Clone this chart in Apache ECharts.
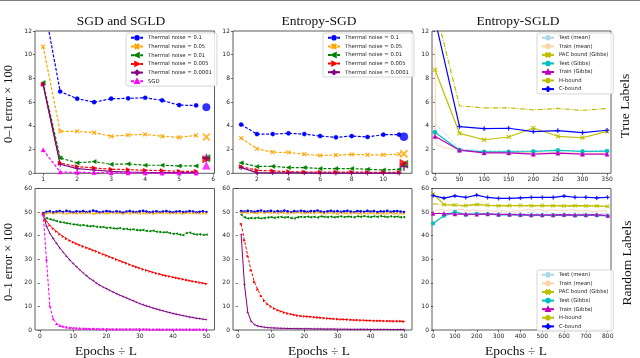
<!DOCTYPE html>
<html><head><meta charset="utf-8">
<script src="https://cdn.jsdelivr.net/npm/echarts@6/dist/echarts.min.js"></script>
<style>html,body{margin:0;padding:0;background:#fff}#c{width:640px;height:358px}</style>
</head><body><div id="c"></div><script>
// ---------------- DATA ----------------
const noiseNames = ['Thermal noise = 0.1','Thermal noise = 0.05','Thermal noise = 0.01','Thermal noise = 0.005','Thermal noise = 0.0001','SGD'];
const boundNames = ['Test (mean)','Train (mean)','PAC bound (Gibbs)','Test (Gibbs)','Train (Gibbs)','H-bound','C-bound'];
const titles = ['SGD and SGLD','Entropy-SGD','Entropy-SGLD'];

// top-left: SGD and SGLD, true labels
const tlX = [1,1.5,2,2.5,3,3.5,4,4.5,5,5.5];
const tlBlue   = [14.6,6.9,6.29,6.0,6.29,6.32,6.37,6.15,5.75,5.72];
const tlOrange = [10.68,3.54,3.54,3.43,3.12,3.23,3.29,3.12,3.03,3.2];
const tlGreen  = [7.65,1.3,0.88,0.99,0.76,0.79,0.68,0.68,0.62,0.62];
const tlRed    = [7.5,0.85,0.57,0.45,0.34,0.31,0.25,0.23,0.17,0.17];
const tlPurple = [7.45,0.76,0.4,0.28,0.17,0.11,0.08,0.06,0.05,0.05];
const tlSGD    = [1.98,0.11,0.08,0.06,0.04,0.03,0.03,0.02,0.02,0.02];
const tlFinalX = 5.8;
const tlFinal  = [5.58,3.06,1.27,1.19,1.3,0.65];

// top-middle: Entropy-SGD, true labels
const tmX = [1,2,3,4,5,6,7,8,9,10,11];
const tmBlue   = [4.11,3.31,3.31,3.37,3.31,3.14,3.03,3.14,3.06,3.26,3.26];
const tmOrange = [2.97,2.07,1.78,1.76,1.61,1.5,1.53,1.59,1.56,1.56,1.61];
const tmGreen  = [0.88,0.57,0.59,0.48,0.48,0.4,0.4,0.4,0.34,0.28,0.34];
const tmRed    = [0.57,0.25,0.2,0.14,0.11,0.1,0.1,0.1,0.09,0.09,0.09];
const tmPurple = [0.48,0.06,0.04,0.03,0.03,0.02,0.02,0.02,0.02,0.02,0.02];
const tmFinalX = 11.3;
const tmFinal  = [3.09,1.64,0.76,0.85,0.57];

// top-right: Entropy-SGLD, true labels
const trX = [0,50,100,150,200,250,300,350];
const trTestMean = [4.19,2.07,1.9,1.9,1.92,1.95,1.9,1.92];
const trTrainMeanX = [0,2,4,6,8,10,12,14,16,18,20,22,24,26,28,30,33,36,40,44,48,50,75,100,125,150,175,200,225,250,275,300,325,350];
const trTrainMean  = [10.6,2.6,2.45,2.3,2.45,2.25,2.35,2.2,2.15,2.3,2.1,2.15,2.2,2.05,2.1,2.1,2.0,2.1,2.05,2.0,2.05,1.95,1.85,1.8,1.8,1.78,1.75,1.75,1.72,1.75,1.72,1.7,1.7,1.7];
const trPAC    = [8.73,3.37,2.83,3.06,3.82,3.12,3.0,3.54];
const trTestG  = [3.46,1.95,1.81,1.81,1.84,1.93,1.84,1.87];
const trTrainG = [3.12,1.95,1.73,1.73,1.61,1.7,1.61,1.61];
const trH      = [14.0,5.69,5.52,5.52,5.35,5.47,5.3,5.47];
const trC      = [13.0,3.94,3.77,3.8,3.51,3.6,3.43,3.63];

// bottom-left: SGD and SGLD, random labels (epochs 1..50)
const blBlue   = [49.6,50.1,50.3,49.9,50.2,50.4,50.0,50.5,50.2,49.9,50.3,50.1,50.4,50.0,50.2,50.6,50.3,49.9,50.1,50.4,50.2,50.0,50.3,50.1,49.8,50.2,50.4,50.1,50.0,50.3,50.5,50.2,49.9,50.1,50.3,50.0,50.2,50.4,50.1,49.9,50.2,50.3,50.0,50.1,50.4,50.2,49.9,50.1,50.3,50.0];
const blOrange = [49.3,49.5,49.7,49.4,49.6,49.8,49.5,49.3,49.6,49.7,49.4,49.6,49.5,49.8,49.6,49.3,49.5,49.7,49.6,49.4,49.6,49.8,49.5,49.6,49.3,49.7,49.5,49.6,49.8,49.4,49.6,49.5,49.7,49.3,49.6,49.8,49.5,49.6,49.4,49.7,49.5,49.6,49.3,49.7,49.6,49.5,49.8,49.4,49.6,49.5];
const blGreen  = [49.2,47.4,47.0,46.6,46.2,45.8,45.6,45.3,45.1,44.8,44.7,44.4,44.5,44.2,44.0,44.1,43.8,43.6,43.7,43.3,43.4,43.1,43.0,43.2,42.8,42.9,42.6,42.7,42.4,42.3,42.4,42.0,41.9,42.1,41.7,41.6,41.4,41.5,41.1,40.8,40.9,40.5,40.2,41.1,41.3,40.8,40.5,40.6,40.3,40.4];
const blRed    = [49.2,46.1,44.4,43.0,41.8,40.6,39.6,38.7,37.9,37.2,36.6,36.0,35.4,34.9,34.4,33.8,33.3,32.7,32.1,31.6,31.0,30.5,29.9,29.4,28.8,28.3,27.7,27.2,26.7,26.2,25.7,25.3,24.9,24.4,24.0,23.7,23.3,23.0,22.7,22.4,22.1,21.8,21.5,21.2,20.9,20.6,20.4,20.1,19.9,19.6];
const blPurple = [49.0,44.0,41.1,38.8,36.8,34.8,33.0,31.3,29.7,28.2,26.8,25.5,24.2,23.0,21.9,20.9,19.9,19.0,18.2,17.5,16.8,16.1,15.4,14.8,14.2,13.6,13.0,12.4,11.8,11.2,10.7,10.2,9.8,9.3,8.9,8.5,8.1,7.7,7.4,7.0,6.7,6.4,6.1,5.8,5.5,5.3,5.0,4.8,4.6,4.4];
const blSGD    = [49.0,29.8,10.2,4.7,2.7,1.9,1.5,1.2,1.0,0.9,0.8,0.7,0.7,0.6,0.6,0.6,0.5,0.5,0.5,0.5,0.4,0.4,0.4,0.4,0.4,0.4,0.4,0.4,0.4,0.4,0.4,0.4,0.3,0.3,0.3,0.3,0.3,0.3,0.3,0.3,0.3,0.3,0.3,0.3,0.3,0.3,0.3,0.3,0.3,0.3];

// bottom-middle: Entropy-SGD, random labels (epochs 1..50)
const bmBlue   = [50.4,50.2,50.5,50.3,50.1,50.4,50.6,50.2,50.3,50.5,50.1,50.4,50.2,50.6,50.3,50.0,50.4,50.2,50.5,50.3,50.1,50.4,50.3,50.6,50.2,50.0,50.3,50.5,50.2,50.4,50.1,50.3,50.5,50.2,50.0,50.4,50.3,50.1,50.5,50.2,50.4,50.0,50.3,50.2,50.5,50.1,50.3,50.4,50.2,50.0];
const bmOrange = [49.8,50.0,49.6,49.9,49.7,49.5,49.9,49.7,50.0,49.6,49.8,49.4,49.9,49.7,49.5,49.8,49.6,49.9,49.7,49.4,49.8,49.6,49.5,49.9,49.7,49.4,49.6,49.8,49.5,49.3,49.7,49.5,49.6,49.4,49.8,49.5,49.3,49.6,49.4,49.7,49.5,49.3,49.6,49.4,49.5,49.7,49.3,49.5,49.4,49.2];
const bmGreen  = [48.9,47.8,47.3,47.5,47.4,47.6,47.3,47.5,47.7,47.9,47.6,47.8,48.0,47.7,47.9,47.5,47.3,47.8,48.0,47.9,48.1,47.8,48.0,47.7,48.2,48.0,47.9,48.1,47.8,48.0,48.2,47.9,48.1,48.0,47.8,48.2,48.0,48.3,48.1,47.9,48.2,48.0,48.3,48.1,47.9,48.2,48.0,48.1,47.8,47.9];
const bmRed    = [45.0,38.0,31.3,25.3,20.4,17.1,14.4,12.4,10.9,9.9,9.1,8.4,7.9,7.4,7.0,6.7,6.4,6.1,5.9,5.8,5.7,5.6,5.4,5.3,5.2,5.0,4.9,4.8,4.7,4.6,4.5,4.5,4.4,4.3,4.2,4.2,4.1,4.1,4.0,4.0,3.9,3.9,3.9,3.8,3.8,3.8,3.7,3.7,3.7,3.6];
const bmPurple = [40.5,19.2,7.5,3.7,2.3,1.7,1.4,1.2,1.0,0.9,0.85,0.8,0.75,0.7,0.65,0.6,0.6,0.55,0.55,0.5,0.5,0.5,0.45,0.45,0.45,0.4,0.4,0.4,0.4,0.35,0.35,0.35,0.35,0.3,0.3,0.3,0.3,0.3,0.3,0.25,0.25,0.25,0.25,0.25,0.25,0.2,0.2,0.2,0.2,0.2];

// bottom-right: Entropy-SGLD, random labels
const brX = [0,50,100,150,200,250,300,350,400,450,500,550,600,650,700,750,800];
const brMeanX = [0,20,40,60,80,100,120,140,160,180,200,220,240,260,280,300,320,340,360,380,400,420,440,460,480,500,520,540,560,580,600,620,640,660,680,700,720,740,760,780,800];
const brTestMean  = [49.0,49.6,50.2,49.4,49.8,50.1,49.5,49.9,49.3,49.7,50.0,49.4,49.8,49.6,49.2,49.7,49.9,49.5,49.3,49.8,49.6,49.4,49.9,49.7,49.3,49.6,49.8,49.5,49.2,49.7,49.5,49.4,49.8,49.6,49.3,49.5,49.7,49.4,49.2,49.5,49.3];
const brTrainMean = [50.2,50.8,51.2,50.6,51.0,50.5,51.3,50.9,50.4,51.1,50.7,50.3,50.9,50.6,50.2,50.5,50.8,50.3,50.1,50.6,50.4,50.9,51.0,50.5,51.2,50.8,50.4,51.1,50.7,50.9,50.5,50.8,51.0,50.6,50.3,50.7,50.4,50.2,50.6,50.5,50.3];
const brPAC    = [57.7,53.2,53.0,52.8,53.2,52.9,52.7,52.8,52.8,52.7,52.8,52.7,52.6,52.7,52.6,52.6,52.4];
const brTestG  = [45.2,48.4,50.1,48.8,49.2,49.1,48.8,48.8,48.7,48.6,48.6,48.6,48.7,48.5,48.6,48.6,48.4];
const brTrainG = [49.4,49.4,49.1,49.1,49.0,49.2,49.0,49.0,48.9,48.8,48.8,48.8,48.9,48.8,48.8,48.9,48.5];
const brH      = [53.5,53.1,52.9,52.6,53.5,52.8,52.5,52.6,52.7,52.6,52.6,52.7,52.5,52.6,52.6,52.5,52.3];
const brC      = [57.0,55.9,56.9,56.2,57.2,56.2,55.8,55.8,56.0,56.2,56.2,56.2,56.8,56.3,56.3,56.0,56.3];

// tick labels
const tlTicks = [1,2,3,4,5,6];
const tmTicks = [2,4,6,8,10];
const trTicks = [0,50,100,150,200,250,300,350];
const bTicks  = [0,10,20,30,40,50];
const brTicks = [0,100,200,300,400,500,600,700,800];

// ---------------- STYLE ----------------
const SYM = {
  x: 'path://M0,1.3L1.3,0L5,3.7L8.7,0L10,1.3L6.3,5L10,8.7L8.7,10L5,6.3L1.3,10L0,8.7L3.7,5Z',
  plus: 'path://M4.3,0H5.7V4.3H10V5.7H5.7V10H4.3V5.7H0V4.3H4.3Z',
  left: 'path://M0,5L10,0L10,10Z',
  right: 'path://M10,5L0,0L0,10Z'
};
const DASH = [3, 1.6];
const noiseStyle = [
  {color:'#0000ff', dash:DASH, sym:'circle'},
  {color:'#ffa500', dash:DASH, sym:SYM.x},
  {color:'#008000', dash:DASH, sym:SYM.left},
  {color:'#ff0000', dash:DASH, sym:SYM.right},
  {color:'#800080', dash:'solid', sym:SYM.plus},
  {color:'#ff00ff', dash:DASH, sym:'triangle'}
];
const idx = (arr) => arr.map((_, i) => i + 1);

function lineS(name, gi, xs, ys, st, size, w, bw) {
  return {
    type:'line', name, xAxisIndex:gi, yAxisIndex:gi,
    data: xs.map((x, i) => [x, ys[i]]).filter(p => p[1] != null),
    symbol: st.sym || 'none', symbolSize: size, showAllSymbol: true,
    lineStyle: {color: st.color, width: st.w || w || 1, type: st.dash || 'solid'},
    itemStyle: {color: st.color, borderColor: st.color, borderWidth: bw == null ? 0.4 : bw},
    emphasis: {disabled: true}, clip: true, z: st.z || 2
  };
}
function finalS(gi, x, y, st, size, k) {
  return {
    type:'scatter', name:'final' + gi + '_' + k, xAxisIndex:gi, yAxisIndex:gi,
    data: [[x, y]], symbol: st.sym, symbolSize: size,
    itemStyle: {color: st.color, borderColor: st.color, borderWidth: 0.5},
    emphasis: {disabled: true}, clip: false, z: 3
  };
}

const series = [];
// TL
[tlBlue, tlOrange, tlGreen, tlRed, tlPurple, tlSGD].forEach((ys, k) => {
  series.push(lineS(noiseNames[k], 0, tlX, ys, noiseStyle[k], 4.2, 1.2));
});
tlFinal.forEach((y, k) => series.push(finalS(0, tlFinalX, y, noiseStyle[k], 7.5, k)));
// TM
[tmBlue, tmOrange, tmGreen, tmRed, tmPurple].forEach((ys, k) => {
  series.push(lineS(noiseNames[k], 1, tmX, ys, noiseStyle[k], 4.2, 1.2));
});
tmFinal.forEach((y, k) => series.push(finalS(1, tmFinalX, y, noiseStyle[k], 8, k)));
// BL
[blBlue, blOrange, blGreen, blRed, blPurple, blSGD].forEach((ys, k) => {
  series.push(lineS(noiseNames[k], 3, idx(ys), ys, noiseStyle[k], 2.8, 1, 0));
});
// BM
[bmBlue, bmOrange, bmGreen, bmRed, bmPurple].forEach((ys, k) => {
  series.push(lineS(noiseNames[k], 4, idx(ys), ys, noiseStyle[k], 2.8, 1, 0));
});
// TR / BR
const bStyle = {
  testMean:  {color:'#a8d8ea', dash:[3,1.6], w:0.9},
  trainMean: {color:'#fdd3a8', dash:'solid', w:0.9},
  pac:       {color:'#bfbf00', dash:'solid', sym:SYM.x},
  testG:     {color:'#00bfbf', dash:'solid', sym:'circle'},
  trainG:    {color:'#bf00bf', dash:'solid', sym:'triangle'},
  h:         {color:'#bfbf00', dash:[5,1.5,1,1.5]},
  c:         {color:'#0000ff', dash:'solid', sym:SYM.plus}
};
function boundSet(gi, xs, meanX, tm, mX2, trm, pac, tg, trg, h, c, sz) {
  series.push(lineS(boundNames[0], gi, meanX, tm, bStyle.testMean, 0));
  series.push(lineS(boundNames[1], gi, mX2, trm, bStyle.trainMean, 0));
  series.push(lineS(boundNames[2], gi, xs, pac, bStyle.pac, sz, 1.2));
  series.push(lineS(boundNames[3], gi, xs, tg, bStyle.testG, sz, 1.2));
  series.push(lineS(boundNames[4], gi, xs, trg, bStyle.trainG, sz, 1.2));
  series.push(lineS(boundNames[5], gi, xs, h, bStyle.h, 0, 1.2));
  series.push(lineS(boundNames[6], gi, xs, c, bStyle.c, sz, 1.2));
}
boundSet(2, trX, trX, trTestMean, trTrainMeanX, trTrainMean, trPAC, trTestG, trTrainG, trH, trC, 4.3);
boundSet(5, brX, brMeanX, brTestMean, brMeanX, brTrainMean, brPAC, brTestG, brTrainG, brH, brC, 3.8);

// ---------------- LAYOUT ----------------
const grids = [
  {left:35, top:31, width:179.5, height:142.3},
  {left:233, top:31, width:179, height:142.3},
  {left:432, top:31, width:179, height:142.3},
  {left:35, top:188.5, width:179.5, height:141.5},
  {left:233, top:188.5, width:179, height:141.5},
  {left:432, top:188.5, width:179, height:141.5}
].map(g => Object.assign({show:true, borderColor:'#333', borderWidth:0.8, backgroundColor:'transparent', containLabel:false}, g));

const tickFont = {fontSize:6, fontFamily:'DejaVu Sans', color:'#222'};
function xAx(gi, min, max, ticks) {
  return {type:'value', gridIndex:gi, min, max,
    axisLine:{show:false},
    axisTick:{show:true, length:2.2, customValues:ticks, lineStyle:{color:'#333', width:0.7}},
    axisLabel:Object.assign({show:true, margin:3, customValues:ticks}, tickFont),
    splitLine:{show:false}};
}
function yAx(gi, max, interval) {
  return {type:'value', gridIndex:gi, min:0, max, interval,
    axisLine:{show:false},
    axisTick:{show:true, length:2.2, lineStyle:{color:'#333', width:0.7}},
    axisLabel:Object.assign({show:true, margin:3}, tickFont),
    splitLine:{show:false}};
}
const xAxis = [
  xAx(0, 0.76, 6.04, tlTicks),
  xAx(1, 0.485, 11.815, tmTicks),
  xAx(2, -6, 358, trTicks),
  xAx(3, -1.45, 52.45, bTicks),
  xAx(4, -1.45, 52.45, bTicks),
  xAx(5, -5, 815, brTicks)
];
const yAxis = [yAx(0,12,2), yAx(1,12,2), yAx(2,12,2), yAx(3,60,10), yAx(4,60,10), yAx(5,60,10)];

function leg(names, left, top, gap) {
  return {data:names, left, top, orient:'vertical', itemWidth:12, itemHeight:4.5, itemGap:gap,
    padding:[2,5,2,4], borderColor:'#cccccc', borderWidth:0.8, borderRadius:2,
    backgroundColor:'rgba(255,255,255,0.85)', selectedMode:false,
    textStyle:{fontSize:5.3, lineHeight:5, fontFamily:'DejaVu Sans', color:'#222'}};
}
const legend = [
  leg(noiseNames, 126, 33, 3.1),
  leg(noiseNames.slice(0,5), 323, 33, 3),
  leg(boundNames, 537, 33, 2.95),
  leg(boundNames, 537, 270, 3)
];

const serif = 'Liberation Serif';
function txt(s, x, y, size, rot) {
  return {type:'text', x, y, rotation: rot ? Math.PI/2 : 0,
    style:{text:s, fontSize:size, fontFamily:serif, fill:'#111', textAlign:'center', textVerticalAlign:'middle'}, silent:true};
}
const graphic = [
  {type:'rect', shape:{x:0, y:0, width:640, height:1}, style:{fill:'#808080'}, silent:true},
  txt(titles[0], 121, 21.5, 13.5),
  txt(titles[1], 319, 21.5, 13.5),
  txt(titles[2], 518, 21.5, 13.5),
  txt('0\u20131 error \u00d7 100', 9, 104, 12.5, true),
  txt('0\u20131 error \u00d7 100', 9, 262, 12.5, true),
  txt('Epochs \u00f7 L', 106, 351, 13.5),
  txt('Epochs \u00f7 L', 319, 351, 13.5),
  txt('Epochs \u00f7 L', 516, 351, 13.5),
  txt('True Labels', 625, 106, 13.5, true),
  txt('Random Labels', 627, 263, 13.5, true)
];

const chart = echarts.init(document.getElementById('c'), null, {renderer:'canvas'});
chart.setOption({animation:false, backgroundColor:'#fff', grid:grids, xAxis, yAxis, legend, series, graphic, tooltip:{show:false}});
</script></body></html>
